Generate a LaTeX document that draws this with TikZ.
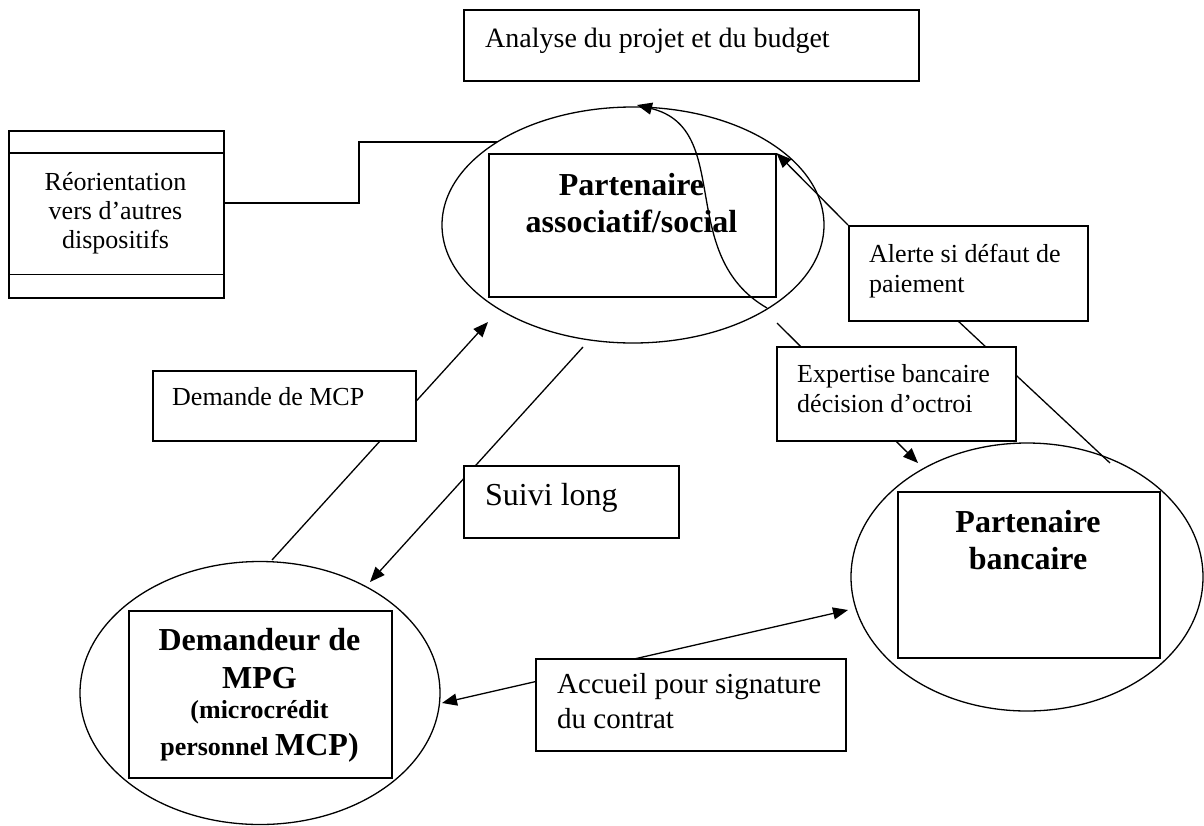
\documentclass[tikz,border=0pt]{standalone}
\usepackage{fontspec}
\setmainfont{Liberation Serif}
\usetikzlibrary{shapes.geometric,arrows.meta,backgrounds}
\begin{document}
\begin{tikzpicture}[x=1pt,y=-1pt,
  box/.style={draw,line width=1.5pt,fill=white,inner sep=0,anchor=north west},
  frame/.style={draw,line width=1.5pt,inner sep=0,anchor=north west},
  oval/.style={draw,line width=1.3pt,ellipse,inner sep=0},
  conn/.style={line width=1.3pt},
  arr/.style={conn,-{Triangle[length=15pt,width=12pt]}},
  darr/.style={conn,{Triangle[length=15pt,width=12pt]}-{Triangle[length=15pt,width=12pt]}},
  txt/.style={inner sep=0,anchor=base west},
  ctxt/.style={inner sep=0,anchor=base},
  fa/.style={font=\fontsize{26}{30}\selectfont},
  fb/.style={font=\fontsize{29}{35}\selectfont},
  fc/.style={font=\fontsize{28}{33}\selectfont},
  fd/.style={font=\fontsize{32}{38}\selectfont},
  fbold/.style={font=\fontsize{32}{37}\selectfont\bfseries},
  fsbold/.style={font=\fontsize{26}{30}\selectfont\bfseries}
]
\useasboundingbox (0,0) rectangle (1204,825);

% ellipses
\node[oval,minimum width=382pt,minimum height=236pt] (pae) at (633,225) {};
\node[oval,minimum width=352pt,minimum height=268pt] (pbe) at (1027,577) {};
\node[oval,minimum width=360pt,minimum height=263pt] (dme) at (260,693) {};

% free connector ends
\coordinate (reoout) at (223,203);
\coordinate (paw) at (497,142);
\coordinate (cva) at (767,308);
\coordinate (cvb) at (637,105);
\coordinate (alb) at (957,320);
\coordinate (pbt) at (1110,463);
\coordinate (exa) at (777,323);
\coordinate (exb) at (918,463);
\coordinate (dma) at (272,560);
\coordinate (dmb) at (488,322);
\coordinate (sva) at (583,347);
\coordinate (svb) at (370,582);
\coordinate (aca) at (442,703);
\coordinate (acb) at (848,610);

% boxes
\node[box,minimum width=455pt,minimum height=71pt] (top) at (463,9) {};
\node[box,minimum width=215pt,minimum height=167pt] (reo) at (8,130) {};
\draw[conn] (reo.north west) ++(0,23) -- ++(215,0);
\draw[conn] (reo.south west) ++(0,-24) -- ++(215,0);
\node[frame,minimum width=287pt,minimum height=143pt] (pain) at (488,153) {};
\node[box,minimum width=239pt,minimum height=95pt] (al) at (848,225) {};
\node[box,minimum width=239pt,minimum height=94pt] (ex) at (776,346) {};
\node[box,minimum width=263pt,minimum height=70pt] (dm) at (152,370) {};
\node[box,minimum width=215pt,minimum height=72pt] (sv) at (463,465) {};
\node[frame,minimum width=262pt,minimum height=166pt] (pbin) at (897,491) {};
\node[box,minimum width=310pt,minimum height=92pt] (ac) at (535,658) {};
\node[frame,minimum width=263pt,minimum height=167pt] (dmin) at (128,610) {};

% texts
\node[txt,fc] (ttop) at (485,47) {Analyse du projet et du budget};
\node[ctxt,fa] (treo1) at (115.5,190) {Réorientation};
\node[ctxt,fa] (treo2) at (115.5,219) {vers d’autres};
\node[ctxt,fa] (treo3) at (115.5,248) {dispositifs};
\node[ctxt,fbold] (tpa1) at (631.5,195) {Partenaire};
\node[ctxt,fbold] (tpa2) at (631.5,232) {associatif/social};
\node[txt,fa] (tal1) at (869,262) {Alerte si défaut de};
\node[txt,fa] (tal2) at (869,292) {paiement};
\node[txt,fa] (tex1) at (797,382) {Expertise bancaire};
\node[txt,fa] (tex2) at (797,412) {décision d’octroi};
\node[txt,fa] (tdm) at (172,405) {Demande de MCP};
\node[txt,fd] (tsv) at (485,505) {Suivi long};
\node[ctxt,fbold] (tpb1) at (1028,532) {Partenaire};
\node[ctxt,fbold] (tpb2) at (1028,569) {bancaire};
\node[txt,fb] (tac1) at (557,693) {Accueil pour signature};
\node[txt,fb] (tac2) at (557,728) {du contrat};
\node[ctxt,fbold] (tdd1) at (259.5,650) {Demandeur de};
\node[ctxt,fbold] (tdd2) at (259.5,688) {MPG};
\node[ctxt,fsbold] (tdd3) at (259.5,718) {(microcrédit};
\node[ctxt,fsbold] (tdd4) at (259.5,755) {personnel {\fontsize{32}{37}\selectfont MCP)}};

% connectors behind boxes
\begin{pgfonlayer}{background}
\draw[conn] (reoout) -- ++(136,0) |- (paw);
\draw[arr] (al.north west) -- (pain.north east);
\draw[conn] (alb) -- (pbt);
\draw[arr] (exa) -- (exb);
\draw[arr] (dma) -- (dmb);
\draw[arr] (sva) -- (svb);
\draw[darr] (aca) -- (acb);
\end{pgfonlayer}

% curved arrow over the inner box
\draw[arr] (cva) .. controls (675,255) and (734,129) .. (cvb);
\end{tikzpicture}
\end{document}
